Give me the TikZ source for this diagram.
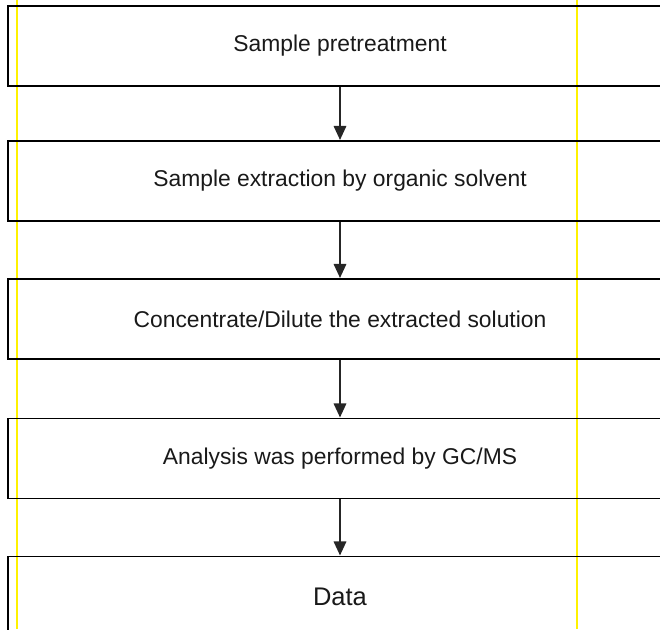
\documentclass[tikz,border=0pt]{standalone}
\usepackage{fontspec}
\setmainfont{Liberation Sans}
\usetikzlibrary{arrows.meta}
\tikzset{
  stage/.style={draw, line width=1.1pt, rectangle, minimum width=13.28cm,
    minimum height=1.6cm, inner sep=0pt, text=black!90,
    font=\fontsize{13}{15}\selectfont},
}
\begin{document}
\begin{tikzpicture}
      \useasboundingbox (0,0) rectangle (13.2,-12.58);
      \clip (0,0) rectangle (13.2,-12.58);
      \draw[yellow, line width=0.6pt] (0.34,0) -- (0.34,-12.58);
      \draw[yellow, line width=0.6pt] (11.54,0) -- (11.54,-12.58);
      \draw
        (6.8,-0.92) node[stage] (pretreat){Sample pretreatment}
        (6.8,-3.62) node[stage] (extract){Sample extraction by organic solvent}
        (6.8,-6.38) node[stage] (conc){Concentrate/Dilute the extracted solution}
        (6.8,-9.17) node[stage] (gcms){Analysis was performed by GC/MS}
        (6.8,-11.93) node[stage, font=\fontsize{14.5}{17}\selectfont] (data){Data};
      \begin{scope}[-{Triangle[length=8pt, width=7pt]}, line width=1.3pt, black!85]
        \draw (pretreat) to (extract);
        \draw (extract) to (conc);
        \draw (conc) to (gcms);
        \draw (gcms) to (data);
      \end{scope}
    \end{tikzpicture}
\end{document}
